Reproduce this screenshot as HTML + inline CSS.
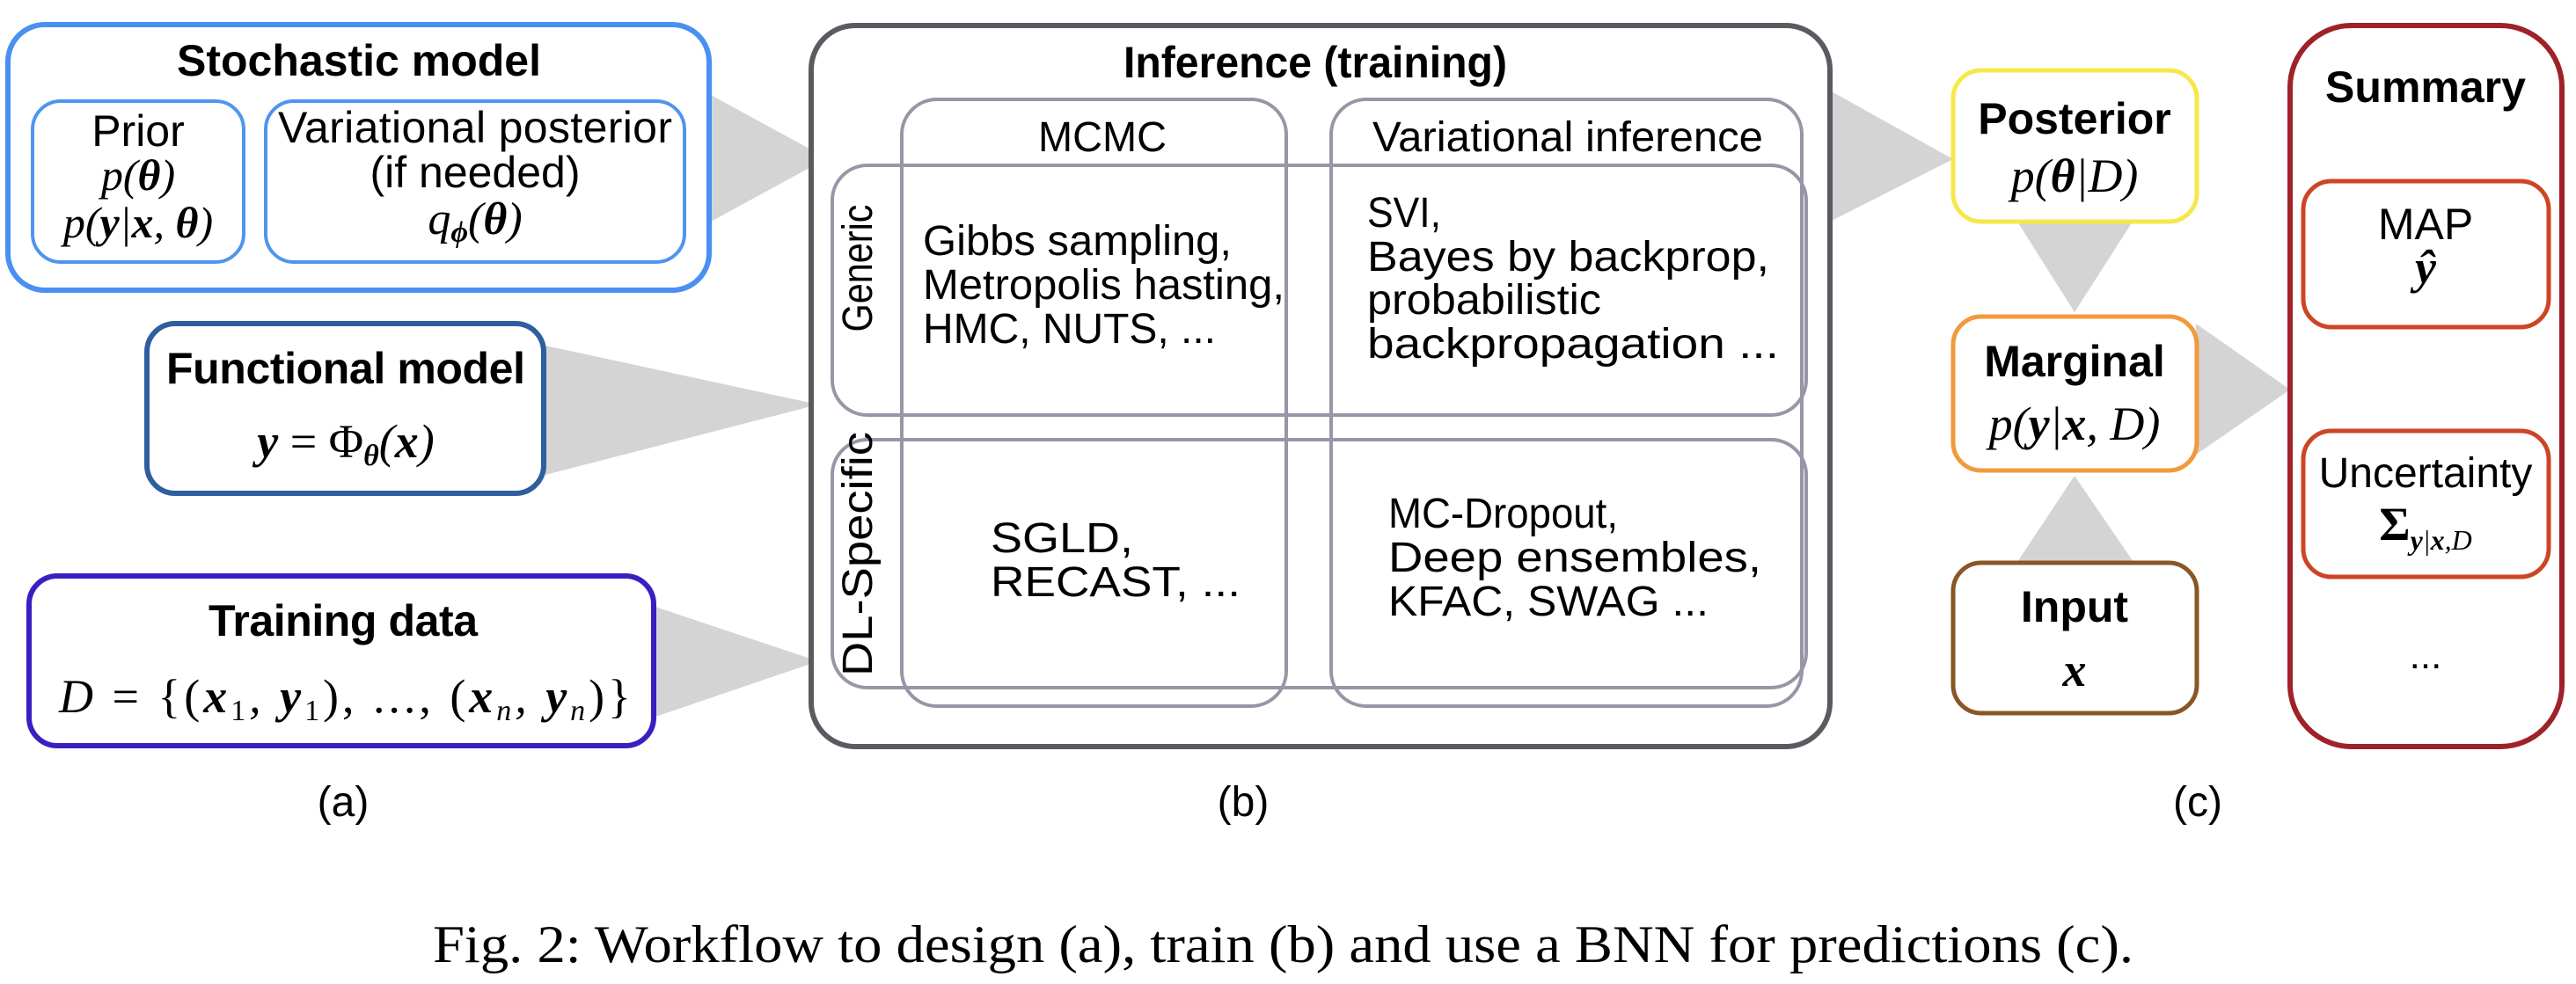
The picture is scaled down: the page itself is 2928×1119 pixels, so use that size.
<!DOCTYPE html>
<html><head><meta charset="utf-8"><style>
html,body{margin:0;padding:0;background:#fff;}
svg{display:block;}
.s{font-family:"Liberation Sans",Arial,sans-serif;}
.n{font-family:"Liberation Sans Narrow","Liberation Sans",Arial,sans-serif;}
.m{font-family:"Liberation Serif","Times New Roman",serif;font-style:italic;}
.r{font-family:"Liberation Serif","Times New Roman",serif;}
</style></head><body>
<svg width="2928" height="1119" viewBox="0 0 2928 1119" xmlns="http://www.w3.org/2000/svg">
<g fill="#d4d4d4">
<polygon points="808,108 808,252 940,180"/>
<polygon points="620,393 620,540 930,460"/>
<polygon points="745,690 745,815 930,752"/>
<polygon points="2080,103 2080,252 2220,181"/>
<polygon points="2293,252 2424,252 2358,355"/>
<polygon points="2496,368 2496,517 2603,443"/>
<polygon points="2291,642 2427,642 2358,541"/>
</g>
<!-- (a) -->
<rect x="9" y="28" width="797" height="302" rx="42" fill="#fff" stroke="#4a8ff2" stroke-width="6"/>
<rect x="37" y="115" width="240" height="183" rx="32" fill="#fff" stroke="#4f95ee" stroke-width="4"/>
<rect x="302" y="115" width="476" height="183" rx="32" fill="#fff" stroke="#4f95ee" stroke-width="4"/>
<text x="408" y="86" class="s" font-size="50" font-weight="bold" text-anchor="middle" textLength="414">Stochastic model</text>
<text x="157" y="166" class="s" font-size="50" text-anchor="middle">Prior</text>
<text x="157" y="216" class="m" font-size="50" text-anchor="middle">p(<tspan font-weight="bold">θ</tspan>)</text>
<text x="157" y="270" class="m" font-size="50" text-anchor="middle">p(<tspan font-weight="bold">y</tspan>|<tspan font-weight="bold">x</tspan>, <tspan font-weight="bold">θ</tspan>)</text>
<text x="540" y="162" class="s" font-size="50" text-anchor="middle" textLength="448">Variational posterior</text>
<text x="540" y="213" class="s" font-size="50" text-anchor="middle">(if needed)</text>
<text x="540" y="266" class="m" font-size="52" text-anchor="middle">q<tspan font-size="34" dy="9" font-weight="bold">ϕ</tspan><tspan dy="-9">(</tspan><tspan font-weight="bold">θ</tspan>)</text>

<rect x="167" y="368" width="451" height="193" rx="32" fill="#fff" stroke="#2f5e9f" stroke-width="6"/>
<text x="393" y="436" class="s" font-size="50" font-weight="bold" text-anchor="middle" textLength="408">Functional model</text>
<text x="393" y="520" class="m" font-size="54" text-anchor="middle"><tspan font-weight="bold">y</tspan> <tspan class="r" font-style="normal">= Φ</tspan><tspan font-size="34" dy="9" font-weight="bold">θ</tspan><tspan dy="-9">(</tspan><tspan font-weight="bold">x</tspan>)</text>

<rect x="33" y="655" width="710" height="193" rx="32" fill="#fff" stroke="#3a1fc0" stroke-width="6"/>
<text x="390" y="723" class="s" font-size="50" font-weight="bold" text-anchor="middle" textLength="306">Training data</text>
<text x="392" y="810" class="m" font-size="54" text-anchor="middle" textLength="650">D <tspan class="r" font-style="normal">=</tspan> <tspan class="r" font-style="normal">{(</tspan><tspan font-weight="bold">x</tspan><tspan class="r" font-style="normal" font-size="34" dy="9">1</tspan><tspan dy="-9">, </tspan><tspan font-weight="bold">y</tspan><tspan class="r" font-style="normal" font-size="34" dy="9">1</tspan><tspan class="r" font-style="normal" dy="-9">), ..., (</tspan><tspan font-weight="bold">x</tspan><tspan font-size="34" dy="9">n</tspan><tspan dy="-9">, </tspan><tspan font-weight="bold">y</tspan><tspan font-size="34" dy="9">n</tspan><tspan class="r" font-style="normal" dy="-9">)}</tspan></text>
<text x="390" y="928" class="s" font-size="48" text-anchor="middle">(a)</text>

<!-- (b) -->
<rect x="922" y="29" width="1158" height="820" rx="50" fill="#fff" stroke="#5a5a60" stroke-width="6"/>
<g fill="none" stroke="#9896a6" stroke-width="4">
<rect x="1025" y="113" width="437" height="690" rx="40"/>
<rect x="1513" y="113" width="535" height="690" rx="40"/>
<rect x="946" y="188" width="1107" height="284" rx="40"/>
<rect x="946" y="500" width="1107" height="282" rx="40"/>
</g>
<text x="1495" y="88" class="n" font-size="50" font-weight="bold" text-anchor="middle" textLength="436" lengthAdjust="spacingAndGlyphs">Inference (training)</text>
<text x="1253" y="172" class="n" font-size="48" text-anchor="middle" textLength="146" lengthAdjust="spacingAndGlyphs">MCMC</text>
<text x="1782" y="172" class="n" font-size="48" text-anchor="middle" textLength="444" lengthAdjust="spacingAndGlyphs">Variational inference</text>
<text transform="translate(991,305) rotate(-90)" class="n" font-size="48" text-anchor="middle" textLength="145" lengthAdjust="spacingAndGlyphs">Generic</text>
<text transform="translate(991,630) rotate(-90)" class="n" font-size="48" text-anchor="middle" textLength="278" lengthAdjust="spacingAndGlyphs">DL-Specific</text>
<g class="n" font-size="48">
<text x="1049" y="290" textLength="351" lengthAdjust="spacingAndGlyphs">Gibbs sampling,</text>
<text x="1049" y="340" textLength="411" lengthAdjust="spacingAndGlyphs">Metropolis hasting,</text>
<text x="1049" y="390" textLength="333" lengthAdjust="spacingAndGlyphs">HMC, NUTS, ...</text>
<text x="1554" y="258" textLength="84" lengthAdjust="spacingAndGlyphs">SVI,</text>
<text x="1554" y="308" textLength="457" lengthAdjust="spacingAndGlyphs">Bayes by backprop,</text>
<text x="1554" y="357" textLength="266" lengthAdjust="spacingAndGlyphs">probabilistic</text>
<text x="1554" y="407" textLength="468" lengthAdjust="spacingAndGlyphs">backpropagation ...</text>
<text x="1126" y="628" textLength="162" lengthAdjust="spacingAndGlyphs">SGLD,</text>
<text x="1126" y="678" textLength="284" lengthAdjust="spacingAndGlyphs">RECAST, ...</text>
<text x="1578" y="600" textLength="261" lengthAdjust="spacingAndGlyphs">MC-Dropout,</text>
<text x="1578" y="650" textLength="424" lengthAdjust="spacingAndGlyphs">Deep ensembles,</text>
<text x="1578" y="700" textLength="364" lengthAdjust="spacingAndGlyphs">KFAC, SWAG ...</text>
</g>
<text x="1413" y="928" class="s" font-size="48" text-anchor="middle">(b)</text>

<!-- (c) -->
<rect x="2220" y="80" width="277" height="172" rx="32" fill="#fff" stroke="#f6e84a" stroke-width="5"/>
<text x="2358" y="152" class="s" font-size="50" font-weight="bold" text-anchor="middle">Posterior</text>
<text x="2358" y="218" class="m" font-size="54" text-anchor="middle">p(<tspan font-weight="bold">θ</tspan>|D)</text>
<rect x="2220" y="360" width="277" height="175" rx="32" fill="#fff" stroke="#f19a3c" stroke-width="5"/>
<text x="2358" y="428" class="s" font-size="50" font-weight="bold" text-anchor="middle">Marginal</text>
<text x="2358" y="500" class="m" font-size="54" text-anchor="middle">p(<tspan font-weight="bold">y</tspan>|<tspan font-weight="bold">x</tspan>, D)</text>
<rect x="2220" y="640" width="277" height="171" rx="32" fill="#fff" stroke="#8a5626" stroke-width="5"/>
<text x="2358" y="707" class="s" font-size="50" font-weight="bold" text-anchor="middle">Input</text>
<text x="2358" y="780" class="m" font-size="54" font-weight="bold" text-anchor="middle">x</text>

<rect x="2603" y="29" width="309" height="820" rx="70" fill="#fff" stroke="#9e2228" stroke-width="6"/>
<text x="2757" y="116" class="s" font-size="50" font-weight="bold" text-anchor="middle">Summary</text>
<rect x="2618" y="206" width="279" height="166" rx="32" fill="#fff" stroke="#cc4526" stroke-width="5"/>
<text x="2757" y="272" class="s" font-size="50" text-anchor="middle">MAP</text>
<text x="2757" y="322" class="m" font-size="54" font-weight="bold" text-anchor="middle">ŷ</text>
<rect x="2618" y="490" width="279" height="166" rx="32" fill="#fff" stroke="#cc4526" stroke-width="5"/>
<text x="2757" y="554" class="s" font-size="48" text-anchor="middle">Uncertainty</text>
<text x="2757" y="614" class="m" font-size="54" text-anchor="middle"><tspan class="r" font-style="normal" font-weight="bold">Σ</tspan><tspan font-size="32" dy="11"><tspan font-weight="bold">y</tspan>|<tspan font-weight="bold">x</tspan>,D</tspan></text>
<text x="2757" y="760" class="s" font-size="44" text-anchor="middle">...</text>
<text x="2498" y="928" class="s" font-size="48" text-anchor="middle">(c)</text>

<text x="492" y="1094" class="r" font-size="60" textLength="1933" lengthAdjust="spacingAndGlyphs">Fig. 2: Workflow to design (a), train (b) and use a BNN for predictions (c).</text>
</svg>
</body></html>
